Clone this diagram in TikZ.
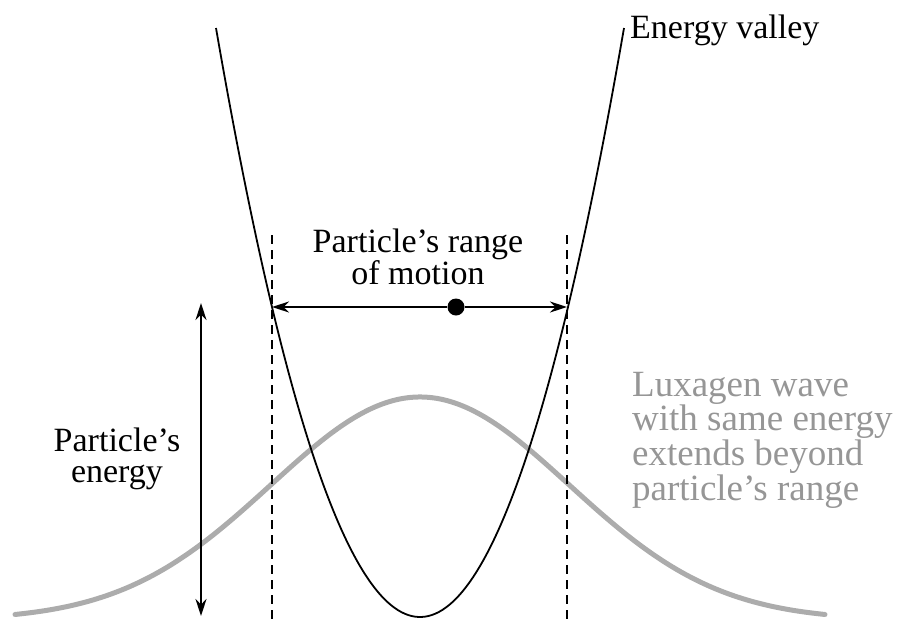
\documentclass[tikz,border=0pt]{standalone}
\usepackage{fontspec}
\setmainfont{Liberation Serif}
\usetikzlibrary{arrows.meta}
\definecolor{wavegray}{RGB}{172,172,172}
\definecolor{textgray}{RGB}{150,150,150}
\tikzset{
  lbl/.style={font=\fontsize{34}{31}\selectfont, inner sep=0pt, align=center},
  graylbl/.style={font=\fontsize{37}{32.5}\selectfont, inner sep=0pt, align=left,
     text=textgray},
  dashln/.style={line width=1.6pt, dash pattern=on 9pt off 6pt},
  arr/.style={line width=1.8pt, -{Stealth[length=17pt,width=11pt]}},
}
\begin{document}
\begin{tikzpicture}[x=1pt,y=-1pt]
\useasboundingbox (0,0) rectangle (902,619);
% wave
\draw[wavegray, line width=5pt, line cap=round, domain=15:825, samples=120, smooth]
  plot ({\x},{620-223*exp(-((\x-420)/210.7)*((\x-420)/210.7))});
% dashed lines
\coordinate (dlt) at (272,235); \coordinate (dlb) at (272,619);
\coordinate (drt) at (567,235); \coordinate (drb) at (567,619);
\draw[dashln] (dlt) -- (dlb);
\draw[dashln] (drt) -- (drb);
% valley
\draw[line width=1.8pt, domain=216:624, samples=120, smooth]
  plot ({\x},{617-310*((\x-420)/148)*((\x-420)/148)});
% range arrow
\coordinate (rl) at (272,307); \coordinate (rr) at (567,307);
\node[circle, fill=black, minimum size=17pt, inner sep=0pt] (dot) at (456,307) {};
\draw[arr] (dot) -- (rl);
\draw[arr] (dot) -- (rr);
% energy arrow
\coordinate (et) at (201,303); \coordinate (eb) at (201,616);
\coordinate (em) at (201,460);
\draw[arr] (em) -- (et);
\draw[arr] (em) -- (eb);
% labels
\node[lbl, anchor=west] (ev) at (630,30) {Energy valley};
\node[lbl] (range) at (418,257) {Particle's range\\of motion};
\node[lbl] (pe) at (117,459) {Particle's\\energy};
\node[graylbl, anchor=west] (lux) at (632,440) {Luxagen wave\\with same energy\\extends beyond\\particle's range};
\end{tikzpicture}
\end{document}
